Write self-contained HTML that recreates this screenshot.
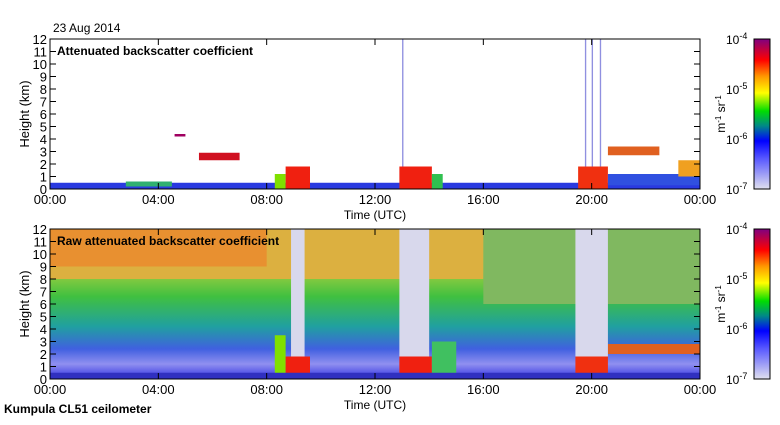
<!DOCTYPE html><html><head><meta charset="utf-8"><style>
body{margin:0;background:#fff;width:780px;height:420px;overflow:hidden}
text{font-family:"Liberation Sans",sans-serif;fill:#000}
</style></head><body>
<svg width="780" height="420">
<defs>
<linearGradient id="cb" x1="0" y1="1" x2="0" y2="0">
<stop offset="0" stop-color="#e0e0ee"/><stop offset="0.2" stop-color="#5a5aff"/><stop offset="0.32" stop-color="#0000ff"/><stop offset="0.42" stop-color="#008888"/><stop offset="0.52" stop-color="#00dd00"/><stop offset="0.64" stop-color="#ffff00"/><stop offset="0.75" stop-color="#ff9900"/><stop offset="0.86" stop-color="#ff0000"/><stop offset="1" stop-color="#800080"/>
</linearGradient>
<linearGradient id="rawbg" x1="0" y1="1" x2="0" y2="0">
<stop offset="0" stop-color="#3030e0"/><stop offset="0.1" stop-color="#9090f0"/><stop offset="0.2" stop-color="#4060e0"/><stop offset="0.35" stop-color="#20a0a0"/><stop offset="0.55" stop-color="#40c040"/><stop offset="0.75" stop-color="#b0d040"/><stop offset="1" stop-color="#e0a040"/>
</linearGradient>
</defs>
<text x="53" y="32" font-size="12">23 Aug 2014</text>
<g id="top"></g>
<g id="bot"></g>
<text x="4" y="413" font-size="12" font-weight="bold">Kumpula CL51 ceilometer</text>
</svg>
<script>
const hourTicks=[0,4,8,12,16,20,24];
const hourLabels=["00:00","04:00","08:00","12:00","16:00","20:00","00:00"];
const kmTicks=[0,1,2,3,4,5,6,7,8,9,10,11,12];
// features: [startHour,endHour,bottomKm,topKm,color]
const topFeatures=[[0,24,0,0.5,"#2a3ae0"],[2.8,4.5,0.2,0.6,"#30b070"],[5.5,7,2.3,2.9,"#d01020"],[4.6,5,4.2,4.4,"#a00060"],[8.3,8.7,0,1.2,"#80e000"],[8.7,9.6,0,1.8,"#f02010"],[12.9,14.1,0,1.8,"#f02010"],[14.1,14.5,0,1.2,"#30c050"],[19.5,20.6,0,1.8,"#f03010"],[20.6,22.5,2.7,3.4,"#e06020"],[20.6,24,0.3,1.2,"#3050e0"],[23.2,24,1,2.3,"#f0a020"]];
const rawFeatures=[[0,16,8,12,"#dcb040"],[0,8,9,12,"#e89030"],[16,24,6,12,"#80b860"],[8.3,8.7,0,3.5,"#80e000"],[8.7,9.6,0,1.8,"#f02010"],[12.9,14.1,0,1.8,"#f02010"],[14.1,15,0,3,"#40c060"],[19.4,20.6,0,1.8,"#f03010"],[20.6,24,2,2.8,"#e06020"],[0,24,0,0.5,"#3030c0"]];
const rawGaps=[[8.9,9.4],[12.9,14.0],[19.4,20.6]];
const topGaps=[[13.0,13.05],[19.75,19.8],[20.0,20.05],[20.3,20.35]];
const NS="http://www.w3.org/2000/svg";
function el(p,t,a){const e=document.createElementNS(NS,t);for(const k in a)e.setAttribute(k,a[k]);p.appendChild(e);return e;}
const X0=50,X1=700;
const xs=h=>X0+h/24*(X1-X0);
function panel(g,Y0,title,bg,feats,gaps,gapColor){
 const H=150,ys=k=>Y0+H-k/12*H;
 const r=el(g,"rect",{x:X0,y:Y0,width:X1-X0,height:H,fill:bg});
 
 
 feats.forEach(f=>{const m=el(g,"rect",{x:xs(f[0]),y:ys(f[3]),width:xs(f[1])-xs(f[0]),height:ys(f[2])-ys(f[3]),fill:f[4]});
 
 });
 gaps.forEach(f=>{const m=el(g,"rect",{x:xs(f[0]),y:ys(12),width:Math.max(1,xs(f[1])-xs(f[0])),height:ys(1.8)-ys(12),fill:gapColor});
 
 });
 const fr=el(g,"rect",{x:X0,y:Y0,width:X1-X0,height:H,fill:"none",stroke:"#000"});
 
 
 kmTicks.forEach(k=>{el(g,"line",{x1:X0,x2:X0+6,y1:ys(k),y2:ys(k),stroke:"#000"});el(g,"line",{x1:X1-6,x2:X1,y1:ys(k),y2:ys(k),stroke:"#000"});
  const t=el(g,"text",{x:X0-3,y:ys(k)+5,"font-size":13,"text-anchor":"end"});t.textContent=k;
  
  });
 hourTicks.forEach((h,i)=>{el(g,"line",{x1:xs(h),x2:xs(h),y1:Y0+H,y2:Y0+H-6,stroke:"#000"});el(g,"line",{x1:xs(h),x2:xs(h),y1:Y0,y2:Y0+6,stroke:"#000"});
  const t=el(g,"text",{x:xs(h),y:Y0+H+15,"font-size":13,"text-anchor":"middle"});t.textContent=hourLabels[i];
  
  });
 const tt=el(g,"text",{x:57,y:Y0+16,"font-size":12,"font-weight":"bold"});tt.textContent=title;
 
 
 const yl=el(g,"text",{x:0,y:0,"font-size":13,"text-anchor":"middle",transform:`translate(29,${Y0+75}) rotate(-90)`});yl.textContent="Height (km)";
 
 
 const xl=el(g,"text",{x:375,y:Y0+H+30,"font-size":12,"text-anchor":"middle"});xl.textContent="Time (UTC)";
 
 
 const cb=el(g,"rect",{x:754,y:Y0,width:16,height:H,fill:"url(#cb)",stroke:"#000"});
 
 
 [-4,-5,-6,-7].forEach((e,i)=>{const t=el(g,"text",{x:726,y:Y0+5+i*50,"font-size":12});t.innerHTML=`10<tspan dy="-5" font-size="9">${e}</tspan>`;
  
  });
 const u=el(g,"text",{x:0,y:0,"font-size":12,"text-anchor":"middle",transform:`translate(725,${Y0+75}) rotate(-90)`});u.innerHTML='m<tspan dy="-4" font-size="8">-1</tspan><tspan dy="4"> sr</tspan><tspan dy="-4" font-size="8">-1</tspan>';
 
 
}
panel(document.getElementById("top"),39,"Attenuated backscatter coefficient","#fff",topFeatures,topGaps,"#9090e0");
panel(document.getElementById("bot"),229,"Raw attenuated backscatter coefficient","url(#rawbg)",rawFeatures,rawGaps,"#d8d8ec");
</script>
</body></html>
